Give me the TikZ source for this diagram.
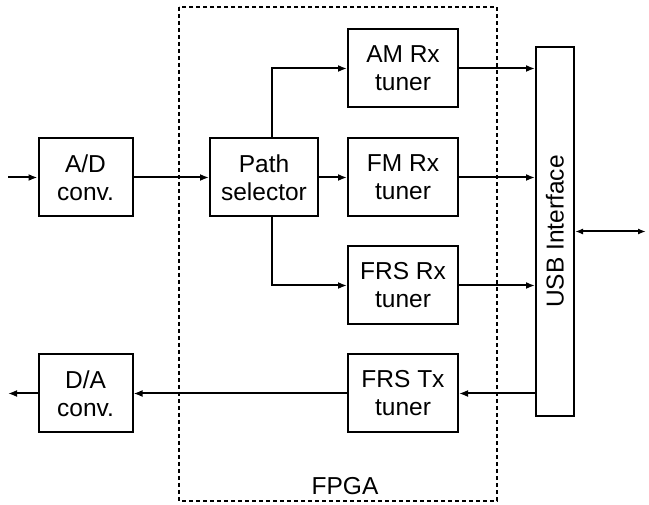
\documentclass[tikz,border=0pt]{standalone}
\usepackage{fontspec}
\setmainfont{Liberation Sans}
\usetikzlibrary{arrows.meta}
\begin{document}
\begin{tikzpicture}[x=1pt,y=-1pt,line width=2pt,
  font=\fontsize{24.5}{28}\selectfont,
  blk/.style={draw,align=center,inner sep=0pt,minimum width=#1,minimum height=78pt},
  blk/.default=110pt,
  arr/.style={-{Latex[length=9pt,width=7pt]}},
  darr/.style={{Latex[length=8pt,width=6pt]}-{Latex[length=8pt,width=6pt]}}]
\useasboundingbox (0,0) rectangle (649,505);
\draw[line width=1.4pt,dash pattern=on 4pt off 3pt] (179,7) rectangle (497,501);
\node (fpga) at (345,486) {FPGA};
\node[blk=94pt] (ad) at (85.5,177.5) {A/D\\conv.};
\node[blk=108pt] (ps) at (264,177.5) {Path\\selector};
\node[blk] (am) at (403,68.5) {AM Rx\\tuner};
\node[blk] (fm) at (403,177.5) {FM Rx\\tuner};
\node[blk] (frsrx) at (403,285.5) {FRS Rx\\tuner};
\node[blk] (frstx) at (403,393.5) {FRS Tx\\tuner};
\node[blk=94pt] (da) at (85.5,393.5) {D/A\\conv.};
\node[draw,minimum width=38pt,minimum height=369pt,inner sep=0pt] (usb) at (555,231.5) {};
\node[rotate=90] (usbt) at (usb.center) {USB Interface};
\coordinate (in) at (8,177.5);
\coordinate (out) at (8,393.5);
\coordinate (ext) at (646,231.5);
\draw[arr] (in) -- (ad.west);
\draw[arr] (ad.east) -- (ps.west);
\draw[arr] ([xshift=8pt]ps.north) |- (am.west);
\draw[arr] (ps.east) -- (fm.west);
\draw[arr] ([xshift=8pt]ps.south) |- (frsrx.west);
\draw[arr] (am.east) -- (am.east -| usb.west);
\draw[arr] (fm.east) -- (fm.east -| usb.west);
\draw[arr] (frsrx.east) -- (frsrx.east -| usb.west);
\draw[arr] (frstx.east -| usb.west) -- (frstx.east);
\draw[arr] (frstx.west) -- (da.east);
\draw[arr] (da.west) -- (out);
\draw[darr] (usb.east) -- (ext);
\end{tikzpicture}
\end{document}
